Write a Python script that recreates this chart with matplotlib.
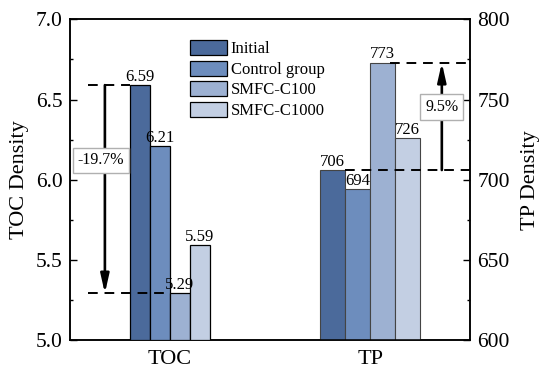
import matplotlib
matplotlib.use("Agg")
import matplotlib.pyplot as plt
from matplotlib.ticker import MultipleLocator, FormatStrFormatter

plt.rcParams['font.family'] = ['Liberation Serif', 'DejaVu Serif']

groups = ["TOC", "TP"]
series = ["Initial", "Control group", "SMFC-C100", "SMFC-C1000"]
toc_vals = [6.59, 6.21, 5.29, 5.59]
tp_vals = [706, 694, 773, 726]
colors = ["#4b6a9b", "#6d8dbd", "#9db1d2", "#c3cfe3"]

fig = plt.figure(figsize=(5.5, 3.81), dpi=100)
ax = fig.add_axes([0.127, 0.108, 0.728, 0.841])
ax2 = ax.twinx()

ax.set_xlim(0, 2)
ax.set_ylim(5.0, 7.0)
ax2.set_ylim(600, 800)

# TOC bars on left axis
w1 = 0.1
handles = []
for i, (v, c) in enumerate(zip(toc_vals, colors)):
    x = 0.5 + (i - 1.5) * w1
    b = ax.bar(x, v - 5.0, bottom=5.0, width=w1, color=c, edgecolor="black",
               linewidth=0.9, zorder=3, label=series[i])
    handles.append(b)
    ax.text(x, v + 0.003, f"{v:.2f}", ha="center", va="bottom", fontsize=12, zorder=5)

# TP bars on right axis
w2 = 0.125
for i, (v, c) in enumerate(zip(tp_vals, colors)):
    x = 1.5 + (i - 1.5) * w2
    ax2.bar(x, v - 600, bottom=600, width=w2, color=c, edgecolor="#444444",
            linewidth=0.8, zorder=3)
    ax2.text(x, v + 0.3, f"{v:d}", ha="center", va="bottom", fontsize=12, zorder=5)

dash = (0, (5, 3.5))
arrow = dict(arrowstyle="-|>,head_length=0.8,head_width=0.18", lw=1.9, color="black",
             mutation_scale=14, shrinkA=0, shrinkB=0)
# TOC annotation
ax.plot([0.09, 0.3], [toc_vals[0]] * 2, color="black", lw=1.4, ls=dash, zorder=4)
ax.plot([0.09, 0.5], [toc_vals[2]] * 2, color="black", lw=1.4, ls=dash, zorder=4)
ax.annotate("", xy=(0.175, toc_vals[2]), xytext=(0.175, toc_vals[0]),
            arrowprops=arrow, zorder=4)
ax.text(0.155, 6.12, "-19.7%", ha="center", va="center", fontsize=11.5, zorder=6,
        bbox=dict(boxstyle="square,pad=0.3", fc="white", ec="#b0b0b0", lw=1))

# TP annotation
ax2.plot([1.6, 2.0], [tp_vals[2]] * 2, color="black", lw=1.4, ls=dash, zorder=4)
ax2.plot([1.375, 2.0], [tp_vals[0]] * 2, color="black", lw=1.4, ls=dash, zorder=4)
ax2.annotate("", xy=(1.858, tp_vals[2]), xytext=(1.858, tp_vals[0]),
             arrowprops=arrow, zorder=4)
ax2.text(1.858, 745.5, "9.5%", ha="center", va="center", fontsize=11.5, zorder=6,
         bbox=dict(boxstyle="square,pad=0.3", fc="white", ec="#b0b0b0", lw=1))

ax.set_xticks([0.5, 1.5])
ax.set_xticklabels(groups, fontsize=16)
ax.tick_params(axis="x", length=0, pad=7)

ax.yaxis.set_major_locator(MultipleLocator(0.5))
ax.yaxis.set_minor_locator(MultipleLocator(0.25))
ax.yaxis.set_major_formatter(FormatStrFormatter("%.1f"))
ax2.yaxis.set_major_locator(MultipleLocator(50))
ax2.yaxis.set_minor_locator(MultipleLocator(25))
for a in (ax, ax2):
    a.tick_params(axis="y", which="major", direction="in", length=5, width=1,
                  labelsize=15.5, pad=5)
    a.tick_params(axis="y", which="minor", direction="in", length=2.5, width=1)
    for s in a.spines.values():
        s.set_linewidth(1.1)

ax.set_ylabel("TOC Density", fontsize=16, labelpad=5)
ax2.set_ylabel("TP Density", fontsize=16, labelpad=8)

leg = ax.legend(handles=handles, loc="upper left", bbox_to_anchor=(0.3, 0.935),
                frameon=False, fontsize=12, handlelength=2.2, handleheight=1.0,
                labelspacing=0.2, handletextpad=0.25, borderpad=0, borderaxespad=0)
leg.set_zorder(10)
ax2.set_zorder(1)
ax.set_zorder(2)
ax.patch.set_visible(False)

fig.savefig("out.png", dpi=100)
